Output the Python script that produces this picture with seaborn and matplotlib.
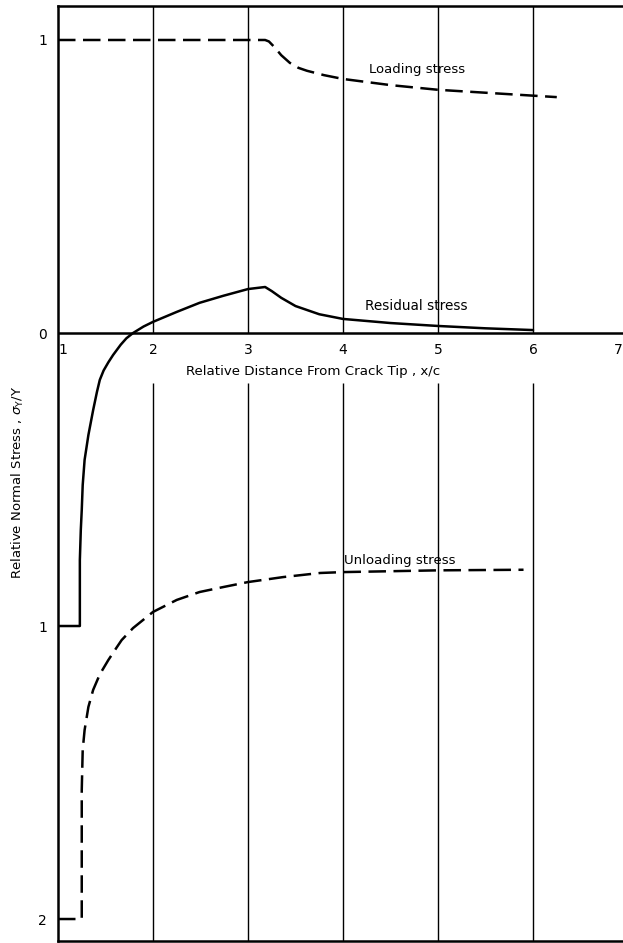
import numpy as np
import pandas as pd
import matplotlib
matplotlib.use("Agg")
import matplotlib.pyplot as plt
import seaborn as sns

# curve values
loading_x = [1.0, 3.18, 3.22, 3.28, 3.35, 3.44, 3.53, 3.62, 3.8, 4.0, 4.5, 5.0, 5.5, 6.0, 6.25]
loading_y = [1.0, 1.0, 0.995, 0.975, 0.948, 0.922, 0.905, 0.895, 0.88, 0.867, 0.846, 0.83, 0.82, 0.81, 0.805]

residual_x = [1.0, 1.23, 1.23, 1.24, 1.25, 1.26, 1.28, 1.32, 1.37, 1.41, 1.44, 1.48, 1.53,
              1.58, 1.66, 1.72, 1.79, 1.9, 2.0, 2.25, 2.49, 2.74, 3.0, 3.18, 3.25, 3.35, 3.5,
              3.75, 4.0, 4.5, 5.0, 5.5, 6.0]
residual_y = [-1.0, -1.0, -0.775, -0.672, -0.604, -0.519, -0.433, -0.348, -0.263, -0.201, -0.16,
              -0.128, -0.1, -0.075, -0.04, -0.018, 0.0, 0.022, 0.038, 0.072, 0.103, 0.127, 0.15,
              0.157, 0.143, 0.12, 0.092, 0.064, 0.048, 0.034, 0.024, 0.016, 0.01]

unloading_x = [1.0, 1.25, 1.25, 1.25, 1.26, 1.28, 1.32, 1.37, 1.44, 1.53, 1.62, 1.67, 1.79,
               2.0, 2.25, 2.49, 2.74, 3.0, 3.37, 3.76, 4.0, 5.0, 5.9]
unloading_y = [-2.0, -2.0, -1.706, -1.56, -1.423, -1.355, -1.276, -1.218, -1.165, -1.116,
               -1.072, -1.048, -1.007, -0.952, -0.911, -0.884, -0.867, -0.85, -0.833, -0.819,
               -0.816, -0.81, -0.808]

y_ticks = [1, 0, -1, -2]
y_ticklabels = ["1", "0", "1", "2"]
x_ticks = [1.05, 2, 3, 4, 5, 6, 6.94]
x_ticklabels = ["1", "2", "3", "4", "5", "6", "7"]
grid_x = [2, 3, 4, 5, 6]

sns.set_style("white")
plt.rcParams["font.family"] = ["DejaVu Sans"]
plt.rcParams["text.color"] = "black"
plt.rcParams["ytick.color"] = "black"

fig = plt.figure(figsize=(6.23, 9.43), dpi=100)
ax = fig.add_axes([58 / 623, 1 - 941 / 943, 1 - 58 / 623, (941 - 6) / 943])

ymin, ymax = -2.075, 1.116
ax.set_xlim(1, 6.947)
ax.set_ylim(ymin, ymax)

# grid lines, broken where the x labels sit
ax.vlines(grid_x, 0, ymax, color="black", lw=1.0)
ax.vlines(grid_x, ymin, -0.17, color="black", lw=1.0)
ax.axhline(0, color="black", lw=1.8)

dash = (0, (7, 3))
sns.lineplot(x=loading_x, y=loading_y, ax=ax, color="black", lw=1.8,
             linestyle=dash, sort=False, estimator=None)
sns.lineplot(x=residual_x, y=residual_y, ax=ax, color="black", lw=1.8,
             sort=False, estimator=None)
sns.lineplot(x=unloading_x, y=unloading_y, ax=ax, color="black", lw=1.8,
             linestyle=dash, sort=False, estimator=None)

ax.text(4.78, 0.898, "Loading stress", ha="center", va="center", fontsize=9.5)
ax.text(4.77, 0.092, "Residual stress", ha="center", va="center", fontsize=9.8)
ax.text(4.6, -0.775, "Unloading stress", ha="center", va="center", fontsize=9.6)

# x tick labels sit under the zero line
for xv, lab in zip(x_ticks, x_ticklabels):
    ax.text(xv, -0.058, lab, ha="right" if lab == "7" else "center", va="center", fontsize=10)
ax.text(3.68, -0.133, "Relative Distance From Crack Tip , x/c", ha="center", va="center", fontsize=9.6)

ax.set_xticks([])
ax.set_yticks(y_ticks)
ax.set_yticklabels(y_ticklabels, fontsize=10)
ax.tick_params(axis="y", length=0, pad=8)
ax.set_xlabel("")
ax.set_ylabel("")

fig.text(18 / 623, 1 - 482 / 943, r"Relative Normal Stress , $\sigma_\mathrm{Y}$/Y",
         rotation=90, ha="center", va="center", fontsize=9.5)

for side in ["left", "top", "bottom"]:
    ax.spines[side].set_color("black")
    ax.spines[side].set_linewidth(1.8)
ax.spines["right"].set_visible(False)

fig.savefig("out.png", dpi=100)
